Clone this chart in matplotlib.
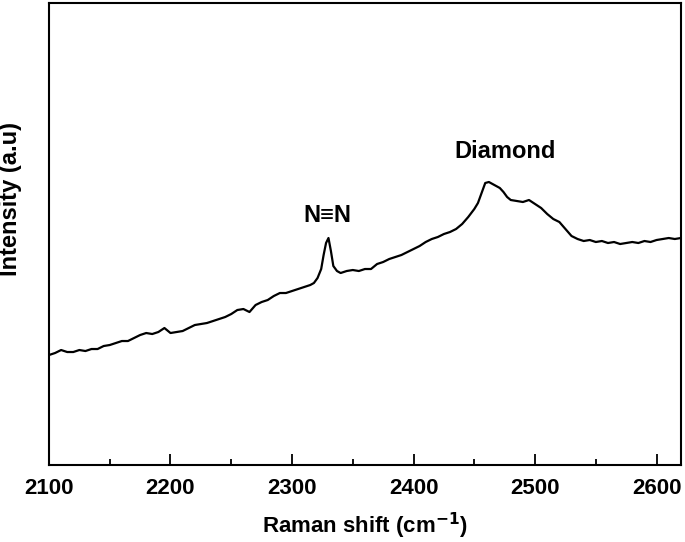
import matplotlib
matplotlib.use("Agg")
import matplotlib.pyplot as plt
from matplotlib.ticker import MultipleLocator

plt.rcParams['font.family'] = ['Liberation Sans', 'DejaVu Sans']

raman_shift = [2100, 2105, 2110, 2115, 2120, 2125, 2130, 2135, 2140, 2145, 2150, 2155, 2160, 2165,
               2170, 2175, 2180, 2185, 2190, 2195, 2200, 2205, 2210, 2215, 2220, 2225, 2230, 2235,
               2240, 2245, 2250, 2255, 2260, 2265, 2270, 2275, 2280, 2285, 2290, 2295, 2300, 2305,
               2310, 2315, 2318, 2321, 2324, 2326, 2328, 2330, 2332, 2334, 2337, 2340, 2345, 2350,
               2355, 2360, 2365, 2370, 2375, 2380, 2385, 2390, 2395, 2400, 2405, 2410, 2415, 2420,
               2425, 2430, 2435, 2440, 2445, 2450, 2453, 2456, 2459, 2462, 2465, 2468, 2471, 2474,
               2477, 2480, 2485, 2490, 2495, 2500, 2505, 2510, 2515, 2520, 2525, 2530, 2535, 2540,
               2545, 2550, 2555, 2560, 2565, 2570, 2575, 2580, 2585, 2590, 2595, 2600, 2605, 2610,
               2615, 2620]
intensity = [110, 112, 115, 113, 113, 115, 114, 116, 116, 119, 120, 122, 124, 124,
             127, 130, 132, 131, 133, 137, 132, 133, 134, 137, 140, 141, 142, 144,
             146, 148, 151, 155, 156, 153, 160, 163, 165, 169, 172, 172, 174, 176,
             178, 180, 182, 187, 196, 210, 222, 227, 214, 199, 194, 192, 194, 195,
             194, 196, 196, 201, 203, 206, 208, 210, 213, 216, 219, 223, 226, 228,
             231, 233, 236, 241, 248, 256, 262, 272, 282, 283, 281, 279, 277, 273,
             268, 265, 264, 263, 265, 261, 257, 251, 246, 243, 236, 229, 226, 224,
             225, 223, 224, 222, 223, 221, 222, 223, 222, 224, 223, 225, 226, 227,
             226, 227]

x_ticks = [2100, 2200, 2300, 2400, 2500, 2600]

fig = plt.figure(figsize=(6.85, 5.42), dpi=100)
ax = fig.add_axes([0.0715, 0.142, 0.9225, 0.8525])

ax.plot(raman_shift, intensity, color='black', lw=1.6)

ax.set_xlim(2100, 2620)
ax.set_ylim(0, 462)
ax.set_xticks(x_ticks)
ax.set_xticklabels([str(t) for t in x_ticks])
ax.xaxis.set_minor_locator(MultipleLocator(50))
ax.set_yticks([])

ax.tick_params(axis='x', which='major', direction='in', length=8, width=1.3,
               labelsize=16, pad=9, top=False)
ax.tick_params(axis='x', which='minor', direction='in', length=4, width=1.3, top=False)
for lbl in ax.get_xticklabels():
    lbl.set_fontweight('bold')

for s in ax.spines.values():
    s.set_linewidth(1.5)

ax.set_xlabel('Raman shift (cm$^{\\mathbf{-1}}$)', fontsize=16, fontweight='bold', labelpad=9)
ax.set_ylabel('Intensity (a.u)', fontsize=17, fontweight='bold')
ax.yaxis.set_label_coords(-0.042, 0.575)

ax.text(2329, 250, 'N≡N', ha='center', va='center', fontsize=17, fontweight='bold')
ax.text(2475, 313, 'Diamond', ha='center', va='center', fontsize=17, fontweight='bold')

fig.savefig('out.png', dpi=100)
